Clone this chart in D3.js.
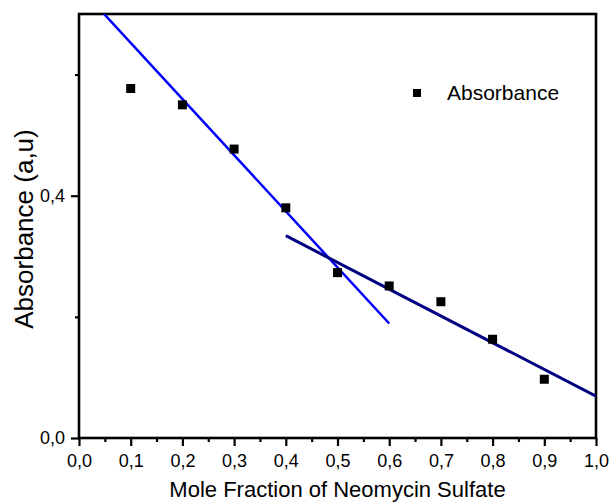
<!DOCTYPE html>
<html>
<head>
<meta charset="utf-8">
<script src="https://cdn.jsdelivr.net/npm/d3@7"></script>
<style>
  html, body { margin: 0; padding: 0; background: #fff; }
  svg { display: block; }
  text { font-family: "Liberation Sans", Arial, sans-serif; fill: #000; }
</style>
</head>
<body>
<svg id="chart" width="609" height="504"></svg>
<script>
// data
const moleFraction = [0.1, 0.2, 0.3, 0.4, 0.5, 0.6, 0.7, 0.8, 0.9];
const absorbance = [0.577, 0.550, 0.477, 0.380, 0.273, 0.251, 0.225, 0.163, 0.097];

// fitted lines, endpoints [x, y]
const fitSteep = [[0.0, 0.745], [0.6, 0.189]];
const fitShallow = [[0.4, 0.334], [1.0, 0.069]];

const xMajor = [0, 0.1, 0.2, 0.3, 0.4, 0.5, 0.6, 0.7, 0.8, 0.9, 1.0];
const xMinor = [0.05, 0.15, 0.25, 0.35, 0.45, 0.55, 0.65, 0.75, 0.85, 0.95];
const yMajor = [0, 0.4];
const yMinor = [0.2, 0.6];

const legendLabel = "Absorbance";
const xTitle = "Mole Fraction of Neomycin Sulfate";
const yTitle = "Absorbance (a,u)";

const svg = d3.select("#chart");
const plot = { left: 79, right: 596, top: 14, bottom: 438 };

const x = d3.scaleLinear().domain([0, 1]).range([plot.left, plot.right]);
const y = d3.scaleLinear().domain([0, 0.7]).range([plot.bottom, plot.top]);
const fmt = (d) => d3.format(".1f")(d).replace(".", ",");

svg.append("clipPath")
  .attr("id", "plot-clip")
  .append("rect")
  .attr("x", plot.left)
  .attr("y", plot.top)
  .attr("width", plot.right - plot.left)
  .attr("height", plot.bottom - plot.top);

// x axis (major + minor ticks, outward)
const xAxis = svg.append("g").attr("transform", `translate(0,${plot.bottom})`);
xAxis.call(d3.axisBottom(x).tickValues(xMajor).tickSize(8).tickPadding(8).tickFormat(fmt));
xAxis.append("g").call(d3.axisBottom(x).tickValues(xMinor).tickSize(4).tickFormat(""));

// y axis
const yAxis = svg.append("g").attr("transform", `translate(${plot.left},0)`);
yAxis.call(d3.axisLeft(y).tickValues(yMajor).tickSize(8).tickPadding(6).tickFormat(fmt));
yAxis.append("g").call(d3.axisLeft(y).tickValues(yMinor).tickSize(4).tickFormat(""));

svg.selectAll(".domain").remove();
svg.selectAll(".tick line").attr("stroke", "#000").attr("stroke-width", 2.2);
svg.selectAll(".tick text")
  .style("font-family", "'Liberation Sans', Arial, sans-serif")
  .style("font-size", "18px")
  .attr("fill", "#000");

// frame
svg.append("rect")
  .attr("x", plot.left)
  .attr("y", plot.top)
  .attr("width", plot.right - plot.left)
  .attr("height", plot.bottom - plot.top)
  .attr("fill", "none")
  .attr("stroke", "#000")
  .attr("stroke-width", 2.6);

// fit lines
const line = d3.line().x((d) => x(d[0])).y((d) => y(d[1]));
const lines = svg.append("g").attr("clip-path", "url(#plot-clip)");
lines.append("path")
  .attr("d", line(fitSteep))
  .attr("fill", "none")
  .attr("stroke", "#0000ff")
  .attr("stroke-width", 2.5);
lines.append("path")
  .attr("d", line(fitShallow))
  .attr("fill", "none")
  .attr("stroke", "#000080")
  .attr("stroke-width", 3);

// points
const size = 9;
svg.append("g")
  .selectAll("rect")
  .data(moleFraction.map((m, i) => [m, absorbance[i]]))
  .enter()
  .append("rect")
  .attr("x", (d) => x(d[0]) - size / 2)
  .attr("y", (d) => y(d[1]) - size / 2)
  .attr("width", size)
  .attr("height", size)
  .attr("fill", "#000");

// legend
const legend = svg.append("g").attr("transform", "translate(417,93)");
legend.append("rect")
  .attr("x", -4).attr("y", -4)
  .attr("width", 8).attr("height", 8)
  .attr("fill", "#000");
legend.append("text")
  .attr("x", 30)
  .attr("y", 6.5)
  .style("font-size", "21px")
  .text(legendLabel);

// axis titles
svg.append("text")
  .attr("x", (plot.left + plot.right) / 2)
  .attr("y", 497)
  .attr("text-anchor", "middle")
  .style("font-size", "22px")
  .text(xTitle);

svg.append("text")
  .attr("transform", `translate(33,${(plot.top + plot.bottom) / 2 + 3}) rotate(-90)`)
  .attr("text-anchor", "middle")
  .style("font-size", "26px")
  .text(yTitle);
</script>
</body>
</html>
